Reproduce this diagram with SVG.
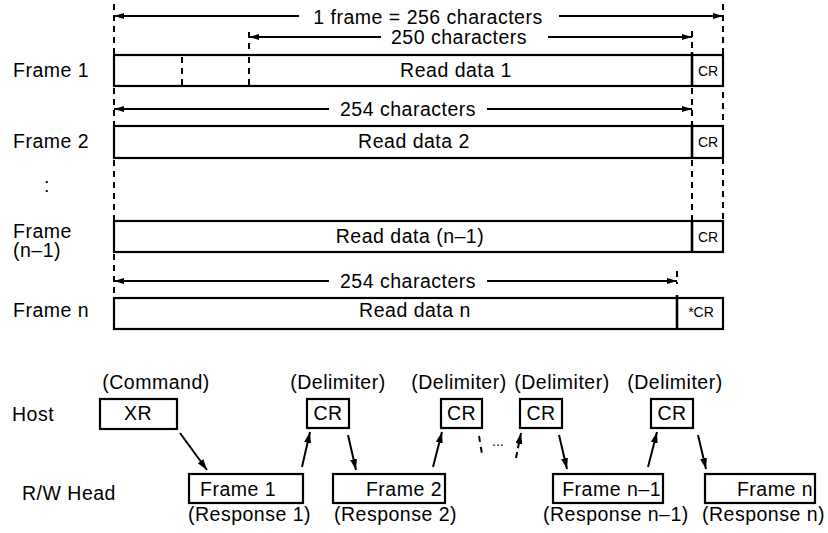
<svg xmlns="http://www.w3.org/2000/svg" width="828" height="533" viewBox="0 0 828 533">
<style>
text{font-family:"Liberation Sans",Arial,sans-serif;font-size:19.5px;letter-spacing:0.5px;fill:#000}
.sm{font-size:14px;letter-spacing:0}
.mid{text-anchor:middle}
.end{text-anchor:end}
.box{fill:#fff;stroke:#000;stroke-width:2.2}
.ln{stroke:#000;stroke-width:2;fill:none}
.dash{stroke:#000;stroke-width:2;fill:none;stroke-dasharray:6 5}
.sep{stroke:#000;stroke-width:2.6}
</style>
<defs>
<marker id="ah" viewBox="0 0 10 6" refX="10" refY="3" markerWidth="10" markerHeight="6" markerUnits="userSpaceOnUse" orient="auto-start-reverse"><path d="M0,0 L10,3 L0,6 z" fill="#000"/></marker>
<marker id="ab" viewBox="0 0 11 7" refX="11" refY="3.5" markerWidth="11" markerHeight="7" markerUnits="userSpaceOnUse" orient="auto"><path d="M0,0 L11,3.5 L0,7 z" fill="#000"/></marker>
</defs>

<g id="guides">
<line class="dash" x1="114" y1="4" x2="114" y2="55"/>
<line class="dash" x1="114" y1="88" x2="114" y2="126"/>
<line class="dash" x1="114" y1="160" x2="114" y2="221"/>
<line class="dash" x1="114" y1="254" x2="114" y2="298"/>
<line class="dash" x1="723" y1="4" x2="723" y2="221"/>
<line class="dash" x1="692" y1="31" x2="692" y2="52"/>
<line class="dash" x1="692" y1="88" x2="692" y2="124"/>
<line class="dash" x1="692" y1="160" x2="692" y2="221"/>
<line class="dash" x1="677" y1="271" x2="677" y2="284"/>
<line class="dash" x1="249" y1="32" x2="249" y2="55"/>
</g>

<g id="dimensions">
<line class="ln" x1="114" y1="16" x2="299" y2="16" marker-start="url(#ah)"/>
<line class="ln" x1="559" y1="16" x2="723" y2="16" marker-end="url(#ah)"/>
<text class="mid" x="428" y="24">1 frame = 256 characters</text>
<line class="ln" x1="249" y1="37" x2="381" y2="37" marker-start="url(#ah)"/>
<line class="ln" x1="548" y1="37" x2="692" y2="37" marker-end="url(#ah)"/>
<text class="mid" x="459" y="44">250 characters</text>
<line class="ln" x1="114" y1="109" x2="329" y2="109" marker-start="url(#ah)"/>
<line class="ln" x1="487" y1="109" x2="692" y2="109" marker-end="url(#ah)"/>
<text class="mid" x="408" y="116">254 characters</text>
<line class="ln" x1="114" y1="281" x2="329" y2="281" marker-start="url(#ah)"/>
<line class="ln" x1="487" y1="281" x2="677" y2="281" marker-end="url(#ah)"/>
<text class="mid" x="408" y="288">254 characters</text>
</g>

<g id="frame1">
<text x="13" y="77">Frame 1</text>
<rect class="box" x="114" y="55" width="609" height="31"/>
<line class="sep" x1="692" y1="52" x2="692" y2="86"/>
<line class="dash" x1="182" y1="57" x2="182" y2="86"/>
<line class="dash" x1="249" y1="57" x2="249" y2="86"/>
<text class="mid" x="456" y="77">Read data 1</text>
<text class="sm mid" x="708" y="76">CR</text>
</g>

<g id="frame2">
<text x="13" y="148">Frame 2</text>
<rect class="box" x="114" y="126" width="609" height="32"/>
<line class="sep" x1="692" y1="124" x2="692" y2="158"/>
<text class="mid" x="414" y="148">Read data 2</text>
<text class="sm mid" x="708" y="147">CR</text>
</g>

<g id="ellipsis">
<text x="44" y="192">:</text>
</g>

<g id="frameN1">
<text x="13" y="238">Frame</text>
<text x="13" y="257">(n–1)</text>
<rect class="box" x="114" y="221" width="609" height="31"/>
<line class="sep" x1="692" y1="221" x2="692" y2="252"/>
<text class="mid" x="410" y="243">Read data (n–1)</text>
<text class="sm mid" x="708" y="242">CR</text>
</g>

<g id="frameN">
<text x="13" y="317">Frame n</text>
<rect class="box" x="114" y="298" width="609" height="31"/>
<line class="sep" x1="677" y1="295" x2="677" y2="329"/>
<text class="mid" x="415" y="317">Read data n</text>
<text class="sm mid" x="701" y="317">*CR</text>
</g>

<g id="rowlabels">
<text x="12" y="421">Host</text>
<text x="22" y="500">R/W Head</text>
</g>

<g id="cmd">
<text class="mid" x="156" y="389">(Command)</text>
<rect class="box" x="100" y="399" width="77" height="30"/>
<text class="mid" x="138" y="420">XR</text>
</g>

<g id="cr1">
<text class="mid" x="338" y="389">(Delimiter)</text>
<rect class="box" x="307" y="399" width="42" height="29"/>
<text class="mid" x="328" y="420">CR</text>
</g>
<g id="cr2">
<text class="mid" x="459" y="389">(Delimiter)</text>
<rect class="box" x="441" y="399" width="41" height="29"/>
<text class="mid" x="461.5" y="420">CR</text>
</g>
<g id="cr3">
<text class="mid" x="562" y="389">(Delimiter)</text>
<rect class="box" x="520" y="399" width="42" height="29"/>
<text class="mid" x="541" y="420">CR</text>
</g>
<g id="cr4">
<text class="mid" x="675" y="389">(Delimiter)</text>
<rect class="box" x="651" y="399" width="42" height="29"/>
<text class="mid" x="672" y="420">CR</text>
</g>

<g id="resp1">
<rect class="box" x="189" y="474" width="114" height="29"/>
<text x="200" y="496">Frame 1</text>
<text x="188" y="521">(Response 1)</text>
</g>
<g id="resp2">
<rect class="box" x="333" y="474" width="112" height="29"/>
<text class="end" x="442" y="496">Frame 2</text>
<text x="334" y="521">(Response 2)</text>
</g>
<g id="respN1">
<rect class="box" x="553" y="474" width="110" height="29"/>
<text class="end" x="661" y="496">Frame n–1</text>
<text x="543" y="521">(Response n–1)</text>
</g>
<g id="respN">
<rect class="box" x="705" y="474" width="110" height="29"/>
<text class="end" x="813" y="496">Frame n</text>
<text x="702" y="521">(Response n)</text>
</g>

<g id="connectors">
<line class="ln" x1="180" y1="433" x2="207" y2="470" marker-end="url(#ab)"/>
<line class="ln" x1="302" y1="467" x2="310" y2="432" marker-end="url(#ab)"/>
<line class="ln" x1="348" y1="435" x2="356" y2="470" marker-end="url(#ab)"/>
<line class="ln" x1="433" y1="467" x2="442" y2="432" marker-end="url(#ab)"/>
<line class="dash" x1="479" y1="436" x2="482" y2="454"/>
<text x="492" y="446" class="sm">...</text>
<line class="dash" x1="516" y1="458" x2="521" y2="433" marker-end="url(#ab)" style="stroke-dasharray:6 4"/>
<line class="ln" x1="559" y1="435" x2="567" y2="469" marker-end="url(#ab)"/>
<line class="ln" x1="648" y1="467" x2="657" y2="432" marker-end="url(#ab)"/>
<line class="ln" x1="698" y1="435" x2="706" y2="469" marker-end="url(#ab)"/>
</g>
</svg>
